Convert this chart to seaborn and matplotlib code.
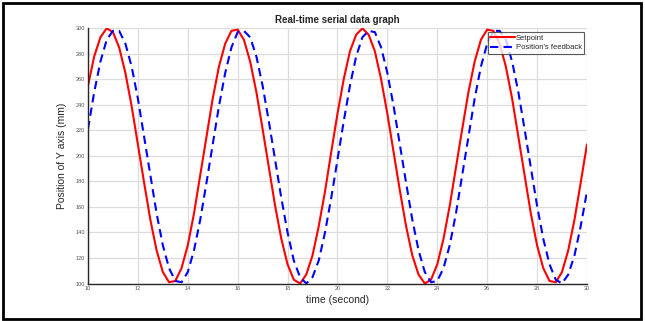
import numpy as np
import pandas as pd
import matplotlib
matplotlib.use("Agg")
import matplotlib.pyplot as plt
import seaborn as sns
from matplotlib.patches import Rectangle

# time axis (s), every 0.25 s
time_s = [10.0, 10.25, 10.5, 10.75, 11.0, 11.25, 11.5, 11.75, 12.0, 12.25,
          12.5, 12.75, 13.0, 13.25, 13.5, 13.75, 14.0, 14.25, 14.5, 14.75,
          15.0, 15.25, 15.5, 15.75, 16.0, 16.25, 16.5, 16.75, 17.0, 17.25,
          17.5, 17.75, 18.0, 18.25, 18.5, 18.75, 19.0, 19.25, 19.5, 19.75,
          20.0, 20.25, 20.5, 20.75, 21.0, 21.25, 21.5, 21.75, 22.0, 22.25,
          22.5, 22.75, 23.0, 23.25, 23.5, 23.75, 24.0, 24.25, 24.5, 24.75,
          25.0, 25.25, 25.5, 25.75, 26.0, 26.25, 26.5, 26.75, 27.0, 27.25,
          27.5, 27.75, 28.0, 28.25, 28.5, 28.75, 29.0, 29.25, 29.5, 29.75,
          30.0]

setpoint = [255, 278, 293, 300, 297, 285, 265, 239, 209, 179,
            150, 126, 109, 101, 102, 112, 130, 155, 185, 215,
            245, 270, 288, 298, 299, 291, 274, 250, 221, 191,
            161, 135, 115, 103, 100, 107, 122, 145, 172, 203,
            233, 260, 282, 295, 300, 295, 282, 260, 233, 203,
            173, 145, 122, 107, 100, 103, 115, 135, 161, 191,
            221, 250, 274, 291, 299, 298, 288, 270, 245, 215,
            185, 155, 130, 112, 102, 101, 109, 126, 150, 179,
            209]

feedback = [221, 250, 274, 291, 298, 298, 288, 270, 245, 215,
            185, 155, 130, 112, 102, 101, 109, 126, 150, 179,
            209, 239, 265, 285, 297, 298, 293, 278, 255, 227,
            197, 167, 140, 118, 105, 100, 105, 118, 140, 167,
            197, 227, 255, 278, 293, 298, 297, 285, 265, 239,
            209, 179, 150, 126, 109, 101, 102, 112, 130, 155,
            185, 215, 245, 270, 288, 298, 298, 291, 274, 250,
            221, 191, 161, 135, 115, 103, 100, 107, 122, 145,
            172]

df = pd.DataFrame({"time": time_s, "Setpoint": setpoint,
                   "Position's feedback": feedback})

sns.set_theme(style="white")
plt.rcParams["font.family"] = ["Liberation Sans", "DejaVu Sans"]

fig = plt.figure(figsize=(6.45, 3.21), dpi=100)
ax = fig.add_axes([0.1364, 0.1168, 0.7736, 0.795])

sns.lineplot(data=df, x="time", y="Setpoint", color="#ff0000", lw=1.5,
             label="Setpoint", ax=ax)
sns.lineplot(data=df, x="time", y="Position's feedback", color="#0000ff",
             lw=1.5, dashes=False, label="Position's feedback", ax=ax)
ax.lines[1].set_dashes([4, 2.5])

ax.set_xlim(10, 30)
ax.set_ylim(100, 300)
ax.set_xticks(np.arange(10, 31, 2))
ax.set_yticks(np.arange(100, 301, 20))
ax.grid(True, color="#dcdcdc", lw=0.9)
ax.set_axisbelow(True)
for s in ["top", "right"]:
    ax.spines[s].set_visible(False)
for s in ["left", "bottom"]:
    ax.spines[s].set_color("#262626")
    ax.spines[s].set_linewidth(1.0)
ax.tick_params(direction="in", length=3, width=0.8, colors="#262626",
               labelsize=4, labelcolor="#555555", pad=2)

ax.set_title("Real-time serial data graph", fontsize=7, fontweight="bold", pad=4)
ax.set_xlabel("time (second)", fontsize=7.5, labelpad=3)
ax.set_ylabel("Position of Y axis (mm)", fontsize=7.5, labelpad=6)

leg = ax.legend(loc="upper right", bbox_to_anchor=(0.995, 0.985), fontsize=5.5,
                frameon=True, fancybox=False, handlelength=3.2,
                borderpad=0.3, labelspacing=0.3, handletextpad=0.2,
                borderaxespad=0)
leg.get_frame().set_edgecolor("#333333")
leg.get_frame().set_linewidth(0.8)

fig.patches.append(Rectangle((3 / 645, 2 / 321), 638 / 645, 316 / 321,
                             transform=fig.transFigure, fill=False,
                             edgecolor="black", lw=2))

fig.savefig("out.png", dpi=100)
